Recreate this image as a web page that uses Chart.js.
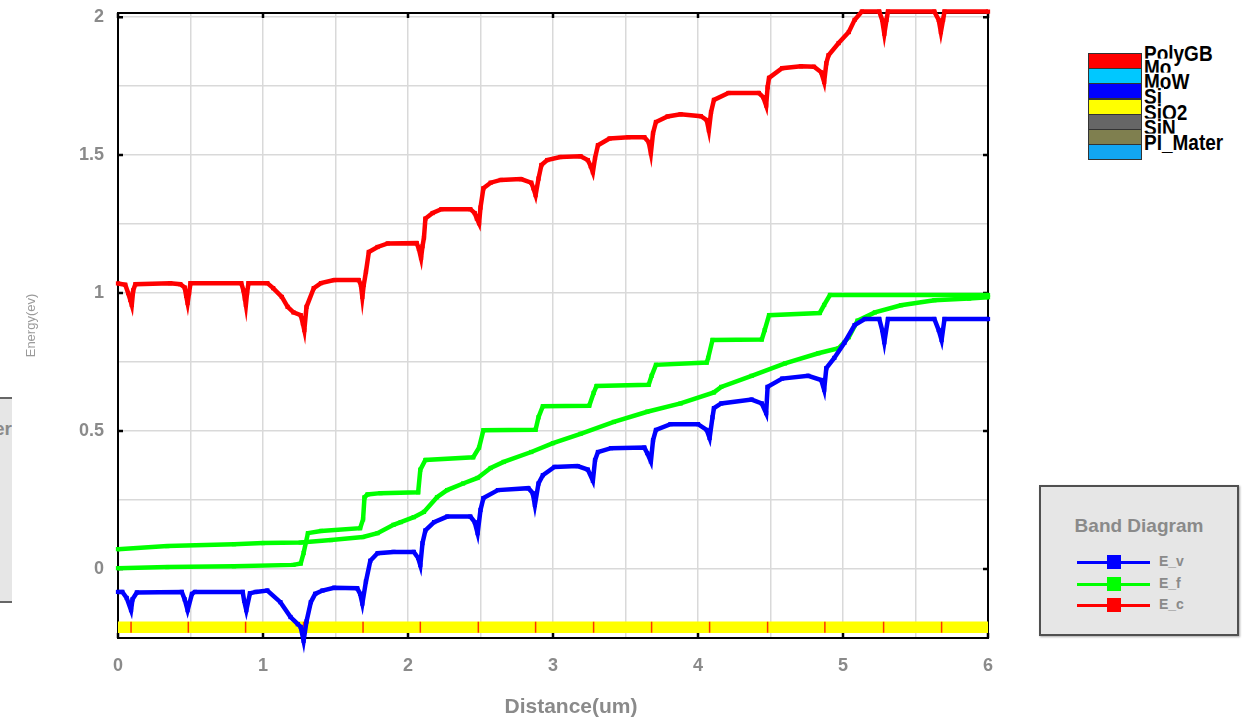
<!DOCTYPE html>
<html>
<head>
<meta charset="utf-8">
<script src="https://cdn.jsdelivr.net/npm/chart.js@4.4.1/dist/chart.umd.min.js"></script>
<style>
  html, body { margin: 0; padding: 0; background: #fff; overflow: hidden; }
  body { width: 1255px; height: 723px; position: relative; font-family: "Liberation Sans", Arial, sans-serif; }
  #wrap { position: absolute; left: 0; top: 0; width: 1000px; height: 723px; }
  .abs { position: absolute; }
  #xTitle { left: 471px; top: 694px; width: 200px; text-align: center; font-weight: bold; font-size: 21px; color: #8a8a8a; }
  .mat { position: absolute; left: 1088px; width: 52px; height: 14px; border: 1px solid #333; }
  .matLbl { position: absolute; left: 1144px; font-weight: bold; font-size: 19px; line-height: 16px; color: #000; background: #fff; padding-right: 2px; transform: scaleY(1.15); transform-origin: 0 100%; }
  #band { left: 1039px; top: 485px; width: 196px; height: 147px; border: 2px solid #505050; background: #e6e6e6; box-shadow: 1px 1px 2px #aaa; }
  #band .ttl { position: absolute; left: 0; top: 28px; width: 196px; text-align: center; font-weight: bold; font-size: 19px; color: #8a8a8a; }
  .row { position: absolute; left: 36px; height: 14px; width: 150px; }
  .row .ln { position: absolute; left: 0; top: 6px; width: 73px; height: 3px; }
  .row .sq { position: absolute; left: 30px; top: 0; width: 14px; height: 14px; }
  .row .tx { position: absolute; left: 82px; top: -2px; font-weight: bold; font-size: 14px; color: #8a8a8a; }
  #leftClip { left: 0; top: 397px; width: 12px; height: 206px; overflow: hidden; }
  #leftBox { position: absolute; left: -100px; top: 0; width: 140px; height: 202px; border: 2px solid #666; background: #e6e6e6; }
</style>
</head>
<body>
<div id="wrap"><canvas id="band_chart" width="1000" height="723"></canvas></div>
<div id="xTitle" class="abs">Distance(um)</div>

<div id="leftClip" class="abs"><div id="leftBox"></div><span class="abs" style="left:-6px;top:21px;font-weight:bold;font-size:19px;color:#8a8a8a;">er</span></div>

<div id="matLegend"></div>

<div id="band" class="abs">
  <div class="ttl">Band Diagram</div>
</div>

<script>
// material legend
var matNames  = ['PolyGB', 'Mo', 'MoW', 'Si', 'SiO2', 'SiN', 'PI_Mater'];
var matColors = ['#ff0000', '#00c8ff', '#0000ff', '#ffff00', '#666666', '#7f7f4f', '#12a6f2'];

// band curves, [distance(um), energy(ev)]
var ev = [
  [0,-0.083],[0.03,-0.083],[0.06,-0.105],[0.09,-0.149],[0.10,-0.11],[0.13,-0.085],[0.44,-0.083],[0.46,-0.11],[0.48,-0.149],
  [0.51,-0.09],[0.53,-0.083],[0.86,-0.083],[0.87,-0.115],[0.885,-0.149],[0.91,-0.088],[0.95,-0.083],[1.03,-0.078],[1.12,-0.12],
  [1.19,-0.174],[1.24,-0.20],[1.26,-0.21],[1.28,-0.26],[1.30,-0.19],[1.33,-0.12],[1.36,-0.09],[1.41,-0.078],[1.49,-0.068],
  [1.65,-0.07],[1.67,-0.09],[1.685,-0.125],[1.71,-0.045],[1.74,0.03],[1.79,0.057],[1.90,0.062],[2.04,0.062],[2.07,0.04],
  [2.085,0.014],[2.10,0.094],[2.12,0.14],[2.18,0.17],[2.27,0.19],[2.43,0.19],[2.46,0.17],[2.48,0.13],[2.50,0.214],[2.52,0.257],
  [2.62,0.286],[2.83,0.293],[2.86,0.275],[2.875,0.232],[2.90,0.31],[2.93,0.34],[3.01,0.37],[3.17,0.373],[3.24,0.36],[3.275,0.32],
  [3.29,0.395],[3.31,0.424],[3.40,0.438],[3.63,0.44],[3.65,0.42],[3.675,0.39],[3.69,0.467],[3.71,0.504],[3.81,0.525],[4.00,0.525],
  [4.06,0.504],[4.08,0.475],[4.10,0.55],[4.11,0.583],[4.16,0.60],[4.37,0.614],[4.44,0.60],[4.47,0.565],[4.48,0.66],[4.58,0.69],
  [4.76,0.70],[4.85,0.685],[4.87,0.65],[4.885,0.728],[4.94,0.765],[5.01,0.82],[5.08,0.884],[5.15,0.906],[5.25,0.906],[5.27,0.866],
  [5.285,0.822],[5.31,0.906],[5.63,0.906],[5.66,0.866],[5.68,0.83],[5.70,0.906],[6.0,0.906]
];
var efStep = [
  [0,0.003],[0.34,0.007],[0.80,0.01],[1.21,0.015],[1.26,0.02],[1.28,0.058],[1.31,0.13],[1.40,0.138],[1.67,0.148],[1.69,0.18],
  [1.70,0.26],[1.72,0.27],[1.81,0.275],[2.07,0.278],[2.085,0.36],[2.12,0.395],[2.45,0.405],[2.49,0.44],[2.52,0.503],[2.88,0.505],
  [2.90,0.55],[2.93,0.59],[3.25,0.592],[3.28,0.638],[3.30,0.663],[3.66,0.668],[3.68,0.70],[3.71,0.74],[4.06,0.748],[4.07,0.765],
  [4.10,0.83],[4.44,0.832],[4.46,0.866],[4.49,0.92],[4.84,0.928],[4.87,0.957],[4.91,0.993],[6.0,0.993]
];
var efSmooth = [
  [0,0.072],[0.34,0.083],[0.80,0.09],[1.0,0.094],[1.26,0.096],[1.47,0.105],[1.69,0.116],[1.79,0.13],[1.90,0.16],[1.95,0.17],
  [2.04,0.188],[2.11,0.207],[2.20,0.26],[2.27,0.286],[2.38,0.31],[2.48,0.33],[2.57,0.366],[2.66,0.388],[2.85,0.424],[3.0,0.456],
  [3.19,0.49],[3.42,0.533],[3.65,0.57],[3.88,0.60],[4.11,0.64],[4.16,0.66],[4.37,0.70],[4.6,0.745],[4.83,0.782],[4.97,0.80],
  [5.04,0.84],[5.1,0.90],[5.22,0.93],[5.4,0.956],[5.63,0.974],[5.87,0.98],[6.0,0.985]
];
var ec = [
  [0,1.035],[0.05,1.03],[0.07,1.0],[0.085,0.975],[0.095,0.957],[0.105,1.01],[0.12,1.032],[0.36,1.036],[0.43,1.032],[0.46,1.02],
  [0.47,0.99],[0.48,0.964],[0.49,1.0],[0.5,1.036],[0.85,1.036],[0.865,1.01],[0.875,0.98],[0.882,0.957],[0.89,1.0],[0.9,1.036],
  [1.03,1.036],[1.07,1.018],[1.13,0.986],[1.17,0.95],[1.21,0.93],[1.26,0.92],[1.275,0.89],[1.285,0.866],[1.3,0.95],[1.35,1.018],
  [1.40,1.036],[1.49,1.047],[1.66,1.047],[1.675,1.03],[1.685,0.986],[1.695,1.03],[1.71,1.077],[1.73,1.149],[1.79,1.167],[1.86,1.18],
  [2.06,1.181],[2.075,1.16],[2.09,1.127],[2.10,1.17],[2.11,1.20],[2.12,1.27],[2.17,1.29],[2.23,1.304],[2.43,1.304],[2.46,1.29],
  [2.475,1.27],[2.49,1.253],[2.50,1.31],[2.52,1.38],[2.57,1.40],[2.64,1.41],[2.78,1.413],[2.85,1.40],[2.865,1.38],[2.88,1.355],
  [2.90,1.415],[2.92,1.464],[2.96,1.482],[3.05,1.493],[3.19,1.496],[3.24,1.482],[3.26,1.46],[3.275,1.438],[3.29,1.49],[3.31,1.536],
  [3.39,1.56],[3.52,1.565],[3.63,1.565],[3.66,1.547],[3.675,1.507],[3.69,1.58],[3.71,1.62],[3.79,1.64],[3.88,1.648],[4.02,1.641],
  [4.06,1.627],[4.075,1.59],[4.09,1.656],[4.11,1.70],[4.21,1.725],[4.42,1.725],[4.45,1.71],[4.47,1.68],[4.48,1.746],[4.49,1.78],
  [4.58,1.815],[4.71,1.822],[4.80,1.82],[4.85,1.80],[4.87,1.765],[4.885,1.833],[4.90,1.862],[4.97,1.906],[5.04,1.946],[5.08,1.99],
  [5.13,2.02],[5.25,2.02],[5.27,1.99],[5.285,1.94],[5.30,1.99],[5.31,2.02],[5.63,2.02],[5.66,1.99],[5.675,1.946],[5.69,1.99],
  [5.70,2.02],[6.0,2.02]
];

// Si layer strip and grain boundary marks
var siTop = -0.19, siBottom = -0.232, gbMarkY = -0.211;
var grainBoundaries = [0.09, 0.485, 0.88, 1.28, 1.69, 2.085, 2.485, 2.88, 3.28, 3.68, 4.08, 4.48, 4.875, 5.28, 5.68];

// axes
var xMin = 0, xMax = 6;
var yMin = -0.25, yMax = 2.015;
var xGrid = [0, 0.5, 1, 1.5, 2, 2.5, 3, 3.5, 4, 4.5, 5, 5.5, 6];
var yGrid = [-0.25, 0, 0.25, 0.5, 0.75, 1, 1.25, 1.5, 1.75, 2];
var xLabeled = [0, 1, 2, 3, 4, 5, 6];
var yLabeled = [0, 0.5, 1, 1.5, 2];

var bandNames  = ['E_v', 'E_f', 'E_c'];
var bandColors = ['#0000ff', '#00ff00', '#ff0000'];

function pts(arr) {
	return arr.map(function(p){ return {x: p[0], y: p[1]}; });
}

function curve(label, arr, color) {
	return {
		label: label,
		data: pts(arr),
		borderColor: color,
		backgroundColor: color,
		borderWidth: 4.5,
		pointStyle: 'rect',
		pointRadius: 3,
		pointBorderWidth: 0,
		pointBackgroundColor: color,
		showLine: true,
		tension: 0,
		clip: false
	};
}

// frame + inner tick marks
var framePlugin = {
	id: 'frame',
	beforeDatasetsDraw: function(chart) {
		var a = chart.chartArea, ctx = chart.ctx;
		var xs = chart.scales.x, ys = chart.scales.y;
		ctx.save();
		ctx.strokeStyle = '#000';
		ctx.lineWidth = 2;
		ctx.strokeRect(a.left, a.top, a.right - a.left, a.bottom - a.top);
		ctx.lineWidth = 2.5;
		ctx.beginPath();
		xLabeled.forEach(function(v){
			var px = xs.getPixelForValue(v);
			ctx.moveTo(px, a.bottom); ctx.lineTo(px, a.bottom - 5);
			ctx.moveTo(px, a.top); ctx.lineTo(px, a.top + 5);
		});
		yLabeled.forEach(function(v){
			var py = ys.getPixelForValue(v);
			ctx.moveTo(a.left, py); ctx.lineTo(a.left + 5, py);
			ctx.moveTo(a.right, py); ctx.lineTo(a.right - 5, py);
		});
		ctx.stroke();
		ctx.restore();
	}
};

var tickFont = { family: "'Liberation Sans', Arial, sans-serif", size: 18, weight: 'bold' };

new Chart(document.getElementById('band_chart'), {
	type: 'scatter',
	data: {
		datasets: [
			curve('E_v', ev, bandColors[0]),
			curve('E_f', efStep, bandColors[1]),
			curve('E_f', efSmooth, bandColors[1]),
			curve('E_c', ec, bandColors[2]),
			{
				label: 'GB',
				data: grainBoundaries.map(function(v){ return {x: v, y: gbMarkY}; }),
				showLine: false,
				pointStyle: 'line',
				rotation: 90,
				pointRadius: 5.5,
				borderColor: '#ff3300',
				pointBorderWidth: 1.5,
				borderWidth: 1.5
			},
			{
				label: 'Si top',
				data: [{x: xMin, y: siTop}, {x: xMax, y: siTop}],
				showLine: true, borderWidth: 0, pointRadius: 0, fill: false
			},
			{
				label: 'Si',
				data: [{x: xMin, y: siBottom}, {x: xMax, y: siBottom}],
				showLine: true, borderWidth: 0, pointRadius: 0,
				backgroundColor: '#ffff00',
				fill: '-1'
			}
		]
	},
	options: {
		responsive: false,
		animation: false,
		layout: { padding: { top: 13, right: 12, left: 0, bottom: 0 } },
		plugins: {
			legend: { display: false },
			tooltip: { enabled: false },
			title: { display: false }
		},
		scales: {
			x: {
				type: 'linear',
				min: xMin, max: xMax,
				afterBuildTicks: function(s){ s.ticks = xGrid.map(function(v){ return {value: v}; }); },
				afterFit: function(s){ s.height = 85; s.paddingLeft = 0; s.paddingRight = 0; },
				grid: { color: '#d9d9d9', lineWidth: 1.5, drawTicks: false },
				border: { display: false },
				ticks: {
					color: '#8a8a8a', font: tickFont, padding: 17, maxRotation: 0, autoSkip: false,
					callback: function(v){ return xLabeled.indexOf(v) >= 0 ? String(v) : ''; }
				}
			},
			y: {
				type: 'linear',
				min: yMin, max: yMax,
				afterBuildTicks: function(s){ s.ticks = yGrid.map(function(v){ return {value: v}; }); },
				afterFit: function(s){ s.width = 118; s.paddingTop = 0; s.paddingBottom = 0; },
				grid: { color: '#d9d9d9', lineWidth: 1.5, drawTicks: false },
				border: { display: false },
				title: {
					display: true, text: 'Energy(ev)', color: '#9a9a9a',
					font: { family: "'Liberation Sans', Arial, sans-serif", size: 13 },
					padding: { top: 24, bottom: 0 }
				},
				ticks: {
					color: '#8a8a8a', font: tickFont, padding: 14, autoSkip: false,
					callback: function(v){ return yLabeled.indexOf(v) >= 0 ? String(v) : ''; }
				}
			}
		}
	},
	plugins: [framePlugin]
});

// materials legend (labels overlap like in the original tool)
var matTop = 53, matStep = 15.2;
var labelTops = [47, 61, 75, 90, 106, 121, 136];
var ml = document.getElementById('matLegend');
matNames.forEach(function(n, i){
	var b = document.createElement('div');
	b.className = 'mat';
	b.style.top = (matTop + i * matStep) + 'px';
	b.style.background = matColors[i];
	ml.appendChild(b);
	var t = document.createElement('div');
	t.className = 'matLbl';
	t.style.top = labelTops[i] + 'px';
	t.style.zIndex = 10 + i;
	t.textContent = n;
	ml.appendChild(t);
});

// band diagram legend
var band = document.getElementById('band');
var rowTops = [68, 90, 111];
bandNames.forEach(function(n, i){
	var r = document.createElement('div');
	r.className = 'row';
	r.style.top = rowTops[i] + 'px';
	r.innerHTML = '<div class="ln" style="background:' + bandColors[i] + '"></div>' +
		'<div class="sq" style="background:' + bandColors[i] + '"></div>' +
		'<div class="tx">' + n + '</div>';
	band.appendChild(r);
});
</script>
</body>
</html>
